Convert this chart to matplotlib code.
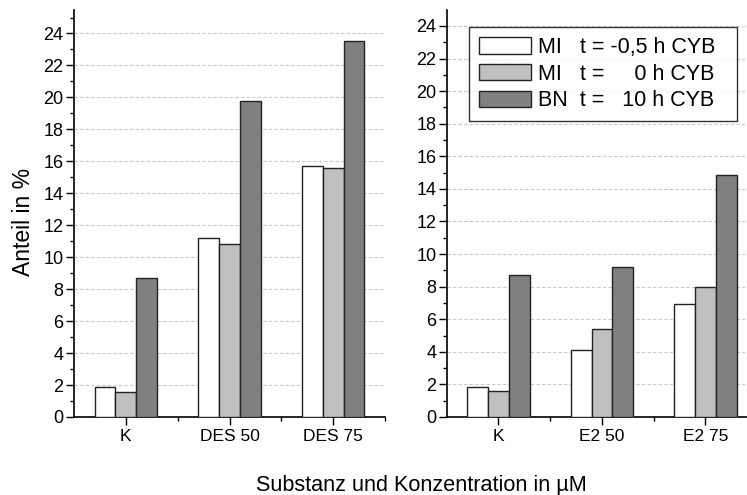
import matplotlib.pyplot as plt
from matplotlib.ticker import MultipleLocator, FixedLocator
import numpy as np

plt.rcParams['font.family'] = ['Liberation Sans', 'DejaVu Sans']

# data
cats_left = ['K', 'DES 50', 'DES 75']
cats_right = ['K', 'E2 50', 'E2 75']
series = ['MI   t = -0,5 h CYB', 'MI   t =     0 h CYB', 'BN  t =   10 h CYB']
left_mi_neg = [1.86, 11.23, 15.69]
left_mi_0 = [1.58, 10.81, 15.56]
left_bn_10 = [8.67, 19.77, 23.56]
right_mi_neg = [1.86, 4.13, 6.92]
right_mi_0 = [1.58, 5.40, 7.98]
right_bn_10 = [8.70, 9.23, 14.86]

colors = ['white', '#c0c0c0', '#808080']
width = 0.2

fig = plt.figure(figsize=(7.47, 4.95), dpi=100)
ax1 = fig.add_axes([0.0991, 0.1576, 0.4163, 0.8222])
ax2 = fig.add_axes([0.598, 0.1576, 0.4157, 0.8222])


def draw(ax, cats, vals, ymax):
    x = np.arange(len(cats))
    for i, v in enumerate(vals):
        # trailing spaces widen the legend box on the right like the original
        ax.bar(x + (i - 1) * width, v, width, color=colors[i],
               edgecolor='#222222', linewidth=1.0, label=series[i] + '  ',
               zorder=3)
    ax.set_xlim(-0.5, len(cats) - 0.5)
    ax.set_ylim(0, ymax)
    ax.set_xticks(x)
    ax.set_xticklabels(cats, fontsize=12.5)
    ax.xaxis.set_minor_locator(FixedLocator([0.5, 1.5, 2.5]))
    ax.yaxis.set_major_locator(MultipleLocator(2))
    ax.yaxis.set_minor_locator(MultipleLocator(1))
    ax.tick_params(axis='y', which='major', labelsize=13, length=6, width=1, pad=1.5)
    ax.tick_params(axis='y', which='minor', length=3, width=1)
    ax.tick_params(axis='x', which='major', length=6, width=1, pad=3)
    ax.tick_params(axis='x', which='minor', length=3, width=1)
    ax.grid(axis='y', which='major', linestyle=(0, (3, 2)), color='#c8c8c8',
            linewidth=0.8, zorder=0)
    ax.spines['top'].set_visible(False)
    ax.spines['right'].set_visible(False)
    ax.spines['left'].set_linewidth(1.2)
    ax.spines['bottom'].set_linewidth(1.2)


draw(ax1, cats_left, [left_mi_neg, left_mi_0, left_bn_10], 25.47)
draw(ax2, cats_right, [right_mi_neg, right_mi_0, right_bn_10], 24.98)

fig.text(0.032, 0.5515, 'Anteil in %', rotation=90, ha='center', va='center',
         fontsize=16.5)

leg = ax2.legend(loc='upper left', bbox_to_anchor=(0.072, 0.958), fontsize=15.5,
                 frameon=True, fancybox=False, edgecolor='black',
                 handlelength=2.45, handleheight=0.8, handletextpad=0.3,
                 labelspacing=0.27, borderpad=0.45, borderaxespad=0)
leg.get_frame().set_linewidth(1.0)
leg.set_zorder(5)

fig.text(0.564, 0.008, 'Substanz und Konzentration in µM', ha='center',
         va='baseline', fontsize=15.6)

plt.savefig('out.png', dpi=100)
